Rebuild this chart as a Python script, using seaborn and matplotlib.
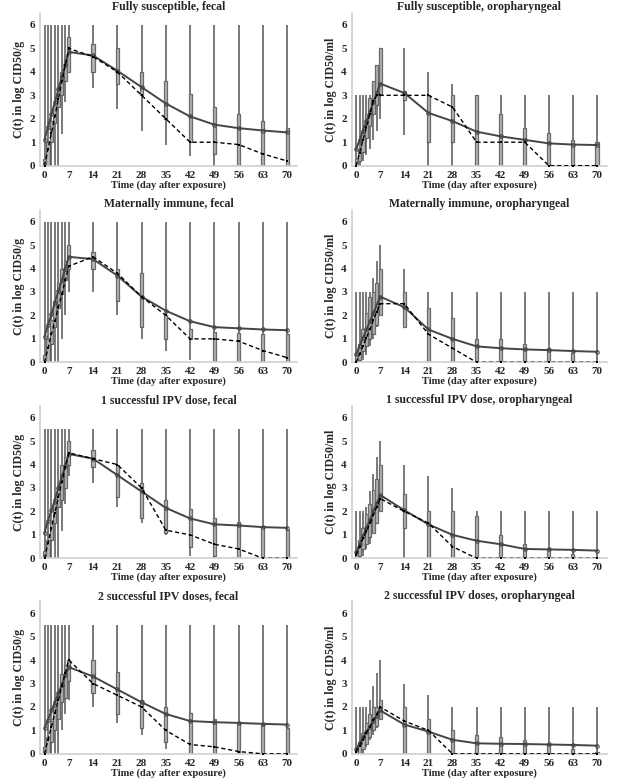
import numpy as np
import pandas as pd
import matplotlib
matplotlib.use("Agg")
import matplotlib.pyplot as plt
import seaborn as sns

# days sampled (daily for the first week, then weekly)
DAYS = [0, 1, 2, 3, 4, 5, 6, 7, 14, 21, 28, 35, 42, 49, 56, 63, 70]
XTICKS = [0, 7, 14, 21, 28, 35, 42, 49, 56, 63, 70]
YTICKS = [0, 1, 2, 3, 4, 5, 6]

# --- Fully susceptible, fecal
fs_fec_lo = [0, 0, 0, 0, 0, 1.35, 2.7, 4.0, 3.3, 2.4, 1.5, 0.9, 0.4, 0, 0, 0, 0]
fs_fec_q1 = [0, 0, 1.0, 1.8, 2.5, 3.0, 3.6, 4.0, 4.0, 3.5, 3.0, 2.0, 1.0, 0.5, 0, 0, 0]
fs_fec_med = [0, 0.7, 1.4, 2.1, 2.85, 3.6, 4.3, 5.0, 4.65, 4.0, 3.0, 2.0, 1.0, 1.0, 0.9, 0.5, 0.2]
fs_fec_q3 = [0.3, 1.0, 1.9, 2.6, 3.4, 4.0, 4.6, 5.5, 5.2, 5.0, 4.0, 3.6, 3.05, 2.5, 2.2, 1.9, 1.6]
fs_fec_hi = [6, 6, 6, 6, 6, 6, 6, 6, 6, 6, 6, 6, 6, 6, 6, 6, 6]
fs_fec_mean = [1.1, 1.65, 2.2, 2.7, 3.25, 3.8, 4.3, 4.85, 4.7, 4.05, 3.35, 2.65, 2.1, 1.75, 1.6, 1.5, 1.42]

# --- Fully susceptible, oropharyngeal
fs_oro_lo = [0, 0, 0.2, 0.45, 0.7, 1.1, 1.5, 2.0, 1.3, 0, 0, 0, 0, 0, 0, 0, 0]
fs_oro_q1 = [0, 0.2, 0.6, 1.2, 1.7, 2.2, 2.6, 3.0, 2.8, 1.0, 1.0, 0, 0, 0, 0, 0, 0]
fs_oro_med = [0, 0.55, 1.1, 1.65, 2.2, 2.75, 3.0, 3.0, 3.0, 3.0, 2.5, 1.0, 1.0, 1.0, 0, 0, 0]
fs_oro_q3 = [0.3, 0.7, 1.4, 2.2, 2.9, 3.6, 4.3, 5.0, 3.2, 3.0, 3.0, 3.0, 2.2, 1.6, 1.4, 1.1, 1.0]
fs_oro_hi = [3, 3, 3, 3, 3, 3.6, 4.3, 5.0, 5.0, 4.0, 3.5, 3, 3, 3, 3, 3, 3]
fs_oro_mean = [0.7, 1.1, 1.5, 1.9, 2.3, 2.7, 3.1, 3.5, 3.1, 2.25, 1.9, 1.45, 1.25, 1.1, 0.95, 0.9, 0.88]

# --- Maternally immune, fecal
mi_fec_lo = [0, 0, 0, 0, 0, 1.0, 2.0, 3.0, 3.0, 2.0, 1.0, 0.5, 0.1, 0, 0, 0, 0]
mi_fec_q1 = [0, 0, 0.8, 1.5, 2.3, 2.9, 3.5, 4.0, 4.0, 2.6, 1.5, 1.0, 1.0, 0, 0, 0, 0]
mi_fec_med = [0, 0.6, 1.2, 1.75, 2.35, 2.9, 3.5, 4.1, 4.5, 3.8, 2.8, 2.0, 1.0, 1.0, 0.9, 0.5, 0.2]
mi_fec_q3 = [0.3, 1.0, 1.8, 2.6, 3.4, 4.0, 4.3, 5.0, 4.7, 4.0, 3.8, 2.0, 1.4, 1.3, 1.25, 1.2, 1.2]
mi_fec_hi = [6, 6, 6, 6, 6, 6, 6, 6, 6, 6, 6, 6, 6, 6, 6, 6, 6]
mi_fec_mean = [1.1, 1.6, 2.05, 2.55, 3.05, 3.5, 4.0, 4.5, 4.4, 3.7, 2.8, 2.2, 1.75, 1.5, 1.45, 1.4, 1.37]

# --- Maternally immune, oropharyngeal
mi_oro_lo = [0, 0, 0.1, 0.3, 0.7, 1.0, 1.5, 2.0, 1.5, 0, 0, 0, 0, 0, 0, 0, 0]
mi_oro_q1 = [0, 0.1, 0.5, 0.7, 1.0, 1.2, 1.6, 2.0, 1.5, 0, 0, 0, 0, 0, 0, 0, 0]
mi_oro_med = [0, 0.35, 0.7, 1.05, 1.4, 1.8, 2.15, 2.5, 2.5, 1.2, 0.6, 0, 0, 0, 0, 0, 0]
mi_oro_q3 = [0.3, 0.8, 1.4, 2.1, 2.8, 3.0, 3.4, 4.0, 3.0, 2.3, 1.9, 1.0, 1.0, 0.8, 0.6, 0.4, 0.0]
mi_oro_hi = [3, 3, 3, 3, 3, 3.6, 4.3, 5.0, 4.0, 3, 3, 3, 3, 3, 3, 3, 3]
mi_oro_mean = [0.35, 0.7, 1.05, 1.4, 1.75, 2.1, 2.45, 2.8, 2.35, 1.4, 1.0, 0.68, 0.6, 0.55, 0.52, 0.48, 0.45]

# --- 1 successful IPV dose, fecal
ipv1_fec_lo = [0, 0, 0, 0, 0, 1.15, 2.3, 3.5, 3.2, 2.2, 1.5, 1.0, 0.1, 0, 0, 0, 0]
ipv1_fec_q1 = [0, 0, 0.8, 1.5, 2.2, 2.5, 3.0, 4.0, 3.9, 2.6, 1.7, 1.1, 0.5, 0.1, 0, 0, 0]
ipv1_fec_med = [0, 0.65, 1.3, 1.95, 2.6, 3.25, 3.9, 4.5, 4.25, 4.0, 3.0, 1.2, 1.0, 0.6, 0.4, 0, 0]
ipv1_fec_q3 = [0.3, 0.8, 1.6, 2.3, 3.1, 4.0, 4.3, 5.0, 4.6, 4.0, 3.2, 2.5, 2.1, 1.7, 1.55, 1.35, 1.2]
ipv1_fec_hi = [5.5, 5.5, 5.5, 5.5, 5.5, 5.5, 5.5, 5.5, 5.5, 5.5, 5.5, 5.5, 5.5, 5.5, 5.5, 5.5, 5.5]
ipv1_fec_mean = [1.1, 1.6, 2.05, 2.5, 3.0, 3.5, 3.95, 4.45, 4.25, 3.55, 2.85, 2.15, 1.7, 1.45, 1.4, 1.33, 1.3]

# --- 1 successful IPV dose, oropharyngeal
ipv1_oro_lo = [0, 0, 0.1, 0.4, 0.6, 1.1, 1.5, 2.0, 0, 0, 0, 0, 0, 0, 0, 0, 0]
ipv1_oro_q1 = [0, 0.1, 0.4, 0.6, 0.9, 1.1, 1.5, 2.0, 1.3, 0, 0, 0, 0, 0, 0, 0, 0]
ipv1_oro_med = [0.15, 0.5, 0.85, 1.15, 1.5, 1.85, 2.2, 2.55, 2.0, 1.5, 0.5, 0, 0, 0, 0, 0, 0]
ipv1_oro_q3 = [0.3, 0.8, 1.3, 1.9, 2.3, 2.9, 3.4, 4.0, 2.75, 2.0, 2.0, 1.8, 1.0, 0.6, 0.4, 0.2, 0.0]
ipv1_oro_hi = [2.0, 2.0, 2.0, 2.2, 2.85, 3.6, 4.3, 5.0, 4.0, 3.5, 3.0, 2.0, 2.0, 2.0, 2.0, 2.0, 2.0]
ipv1_oro_mean = [0.25, 0.6, 0.95, 1.3, 1.65, 2.0, 2.35, 2.7, 2.05, 1.45, 1.0, 0.75, 0.6, 0.4, 0.38, 0.36, 0.33]

# --- 2 successful IPV doses, fecal
ipv2_fec_lo = [0, 0, 0, 0, 0, 1.0, 1.7, 2.3, 2.0, 1.3, 0.8, 0.2, 0, 0, 0, 0, 0]
ipv2_fec_q1 = [0, 0, 0.5, 1.0, 1.5, 2.2, 2.4, 3.1, 2.6, 1.7, 1.1, 0.5, 0, 0, 0, 0, 0]
ipv2_fec_med = [0, 0.6, 1.15, 1.75, 2.3, 2.9, 3.45, 4.0, 3.0, 2.5, 2.0, 1.0, 0.4, 0.3, 0.1, 0, 0]
ipv2_fec_q3 = [0.3, 0.7, 1.4, 2.0, 2.7, 3.4, 3.8, 4.0, 4.0, 3.5, 2.3, 2.0, 1.75, 1.5, 1.35, 1.25, 1.1]
ipv2_fec_hi = [5.5, 5.5, 5.5, 5.5, 5.5, 5.5, 5.5, 5.5, 5.5, 5.5, 5.5, 5.5, 5.5, 5.5, 5.5, 5.5, 5.5]
ipv2_fec_mean = [1.1, 1.45, 1.85, 2.2, 2.6, 2.95, 3.35, 3.7, 3.3, 2.75, 2.2, 1.7, 1.4, 1.35, 1.32, 1.28, 1.25]

# --- 2 successful IPV doses, oropharyngeal
ipv2_oro_lo = [0, 0, 0, 0.3, 0.6, 0.8, 1.1, 1.5, 0, 0, 0, 0, 0, 0, 0, 0, 0]
ipv2_oro_q1 = [0, 0, 0.2, 0.4, 0.7, 1.0, 1.2, 1.5, 0, 0, 0, 0, 0, 0, 0, 0, 0]
ipv2_oro_med = [0.1, 0.35, 0.6, 0.9, 1.15, 1.45, 1.7, 2.0, 1.4, 1.0, 0, 0, 0, 0, 0, 0, 0]
ipv2_oro_q3 = [0.2, 0.5, 0.9, 1.3, 1.7, 2.0, 2.0, 2.3, 2.0, 1.5, 1.0, 0.8, 0.7, 0.6, 0.4, 0.2, 0.1]
ipv2_oro_hi = [2.0, 2.0, 2.0, 2.0, 2.3, 2.9, 3.45, 4.0, 3.0, 2.5, 2.0, 2.0, 2.0, 2.0, 2.0, 2.0, 2.0]
ipv2_oro_mean = [0.2, 0.45, 0.7, 0.95, 1.15, 1.4, 1.6, 1.85, 1.25, 0.95, 0.6, 0.45, 0.43, 0.42, 0.4, 0.38, 0.35]

TITLES = [
    "Fully susceptible, fecal", "Fully susceptible, oropharyngeal",
    "Maternally immune, fecal", "Maternally immune, oropharyngeal",
    "1 successful IPV dose, fecal", "1 successful IPV dose, oropharyngeal",
    "2 successful IPV doses, fecal", "2 successful IPV doses, oropharyngeal",
]
YLABEL_FEC = "C(t) in log CID50/g"
YLABEL_ORO = "C(t) in log CID50/ml"
XLABEL = "Time (day after exposure)"

panels = [
    (fs_fec_lo, fs_fec_q1, fs_fec_med, fs_fec_q3, fs_fec_hi, fs_fec_mean),
    (fs_oro_lo, fs_oro_q1, fs_oro_med, fs_oro_q3, fs_oro_hi, fs_oro_mean),
    (mi_fec_lo, mi_fec_q1, mi_fec_med, mi_fec_q3, mi_fec_hi, mi_fec_mean),
    (mi_oro_lo, mi_oro_q1, mi_oro_med, mi_oro_q3, mi_oro_hi, mi_oro_mean),
    (ipv1_fec_lo, ipv1_fec_q1, ipv1_fec_med, ipv1_fec_q3, ipv1_fec_hi, ipv1_fec_mean),
    (ipv1_oro_lo, ipv1_oro_q1, ipv1_oro_med, ipv1_oro_q3, ipv1_oro_hi, ipv1_oro_mean),
    (ipv2_fec_lo, ipv2_fec_q1, ipv2_fec_med, ipv2_fec_q3, ipv2_fec_hi, ipv2_fec_mean),
    (ipv2_oro_lo, ipv2_oro_q1, ipv2_oro_med, ipv2_oro_q3, ipv2_oro_hi, ipv2_oro_mean),
]

sns.set_theme(style="white")
plt.rcParams['font.family'] = ['Liberation Serif', 'DejaVu Serif']
plt.rcParams['font.weight'] = 'bold'

fig = plt.figure(figsize=(6.28, 7.8), dpi=100)

col_left = [0.0637, 0.560]
col_w = [0.409, 0.406]
row_bottom = [0.7876, 0.5355, 0.2842, 0.0335]
row_h = 0.1954

for i, (lo, q1, med, q3, hi, mean) in enumerate(panels):
    r, c = divmod(i, 2)
    ax = fig.add_axes([col_left[c], row_bottom[r], col_w[c], row_h])

    # five values per day -> box = q1..q3, whiskers = min..max
    df = pd.DataFrame({
        'day': np.repeat(DAYS, 5),
        'value': np.column_stack([lo, q1, med, q3, hi]).ravel(),
    })
    sns.boxplot(data=df, x='day', y='value', native_scale=True, whis=(0, 100),
                width=0.9, color='#b3b3b3', linecolor='#6a6a6a', linewidth=0.9,
                saturation=1, showcaps=False, fliersize=0,
                medianprops={'visible': False},
                whiskerprops={'color': '#555555', 'linewidth': 1.1}, ax=ax)

    sns.lineplot(x=DAYS, y=mean, ax=ax, color='#454545', linewidth=1.4,
                 marker='o', markersize=2.5, markerfacecolor='none',
                 markeredgecolor='#454545', zorder=5)
    sns.lineplot(x=DAYS, y=med, ax=ax, color='black', linewidth=1.0,
                 linestyle=(0, (3, 2)), marker='s', markersize=1.8,
                 markeredgewidth=0, zorder=6)

    ax.set_xlim(-1.3, 72.8)
    ax.set_ylim(0, 6.5)
    ax.set_xticks(XTICKS)
    ax.set_xticklabels([str(t) for t in XTICKS])
    ax.set_yticks(YTICKS)
    ax.set_yticklabels([str(t) for t in YTICKS])
    ax.tick_params(axis='both', labelsize=8, length=2, color='#bbbbbb', pad=1.5)
    for lab in ax.get_xticklabels() + ax.get_yticklabels():
        lab.set_fontweight('bold')

    sns.despine(ax=ax)
    for side in ['left', 'bottom']:
        ax.spines[side].set_color('#cfcfcf')
        ax.spines[side].set_linewidth(1.2)

    ax.set_title(TITLES[i], fontsize=8.5, fontweight='bold', pad=2)
    ax.set_xlabel(XLABEL, fontsize=7.5, fontweight='bold', labelpad=0.5)
    ax.set_ylabel(YLABEL_FEC if c == 0 else YLABEL_ORO, fontsize=8.5,
                  fontweight='bold', labelpad=3)

plt.savefig("out.png", dpi=100)
